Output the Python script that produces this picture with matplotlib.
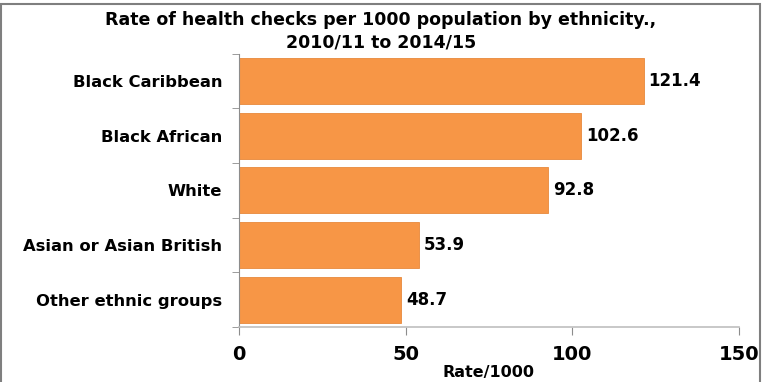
import matplotlib
matplotlib.use('Agg')
import matplotlib.pyplot as plt
import numpy as np

categories = ['Black Caribbean', 'Black African', 'White', 'Asian or Asian British', 'Other ethnic groups']
rates = [121.4, 102.6, 92.8, 53.9, 48.7]
x_ticks = [0, 50, 100, 150]

plt.rcParams['font.family'] = ['DejaVu Sans']

fig = plt.figure(figsize=(7.62, 3.82), dpi=100)
ax = fig.add_axes([0.3136, 0.144, 0.656, 0.715])

y_pos = np.arange(len(categories))
bars = ax.barh(y_pos, rates, height=0.84, color='#F79646', edgecolor='#E8893C', linewidth=0.6)
ax.set_yticks(y_pos)
ax.set_yticklabels(categories, fontweight='bold', fontsize=11.8)
ax.invert_yaxis()
ax.set_ylim(len(categories) - 0.5, -0.5)
ax.set_xlim(0, 150)
ax.set_xticks(x_ticks)
ax.set_xticklabels([str(t) for t in x_ticks], fontweight='bold', fontsize=14)
ax.set_xlabel('Rate/1000', fontweight='bold', fontsize=11.5, labelpad=1)

# значения справа от столбцов
for bar, val in zip(bars, rates):
    ax.text(bar.get_width() + 1.5, bar.get_y() + bar.get_height() / 2, f'{val:.1f}',
            ha='left', va='center', fontweight='bold', fontsize=12)

# оси серые, тики наружу
for side in ['top', 'right']:
    ax.spines[side].set_visible(False)
ax.spines['left'].set_color('#8C8C8C')
ax.spines['bottom'].set_color('#BFBFBF')
ax.spines['bottom'].set_linewidth(1.2)
ax.tick_params(axis='y', which='major', length=0, pad=12)
ax.tick_params(axis='x', which='major', length=6, color='#8C8C8C', pad=7)
ax.set_yticks(np.arange(-0.5, len(categories) + 0.5, 1), minor=True)
ax.tick_params(axis='y', which='minor', length=5, color='#8C8C8C')

fig.text(0.5, 0.97, 'Rate of health checks per 1000 population by ethnicity.,\n2010/11 to 2014/15',
         ha='center', va='top', fontweight='bold', fontsize=12.5, linespacing=1.3)

# рамка вокруг рисунка
fig.patches.append(plt.Rectangle((0.001, -0.01), 0.997, 1.0, transform=fig.transFigure,
                                 fill=False, edgecolor='#7F7F7F', linewidth=1.5))

fig.savefig('out.png', dpi=100)
plt.close(fig)
